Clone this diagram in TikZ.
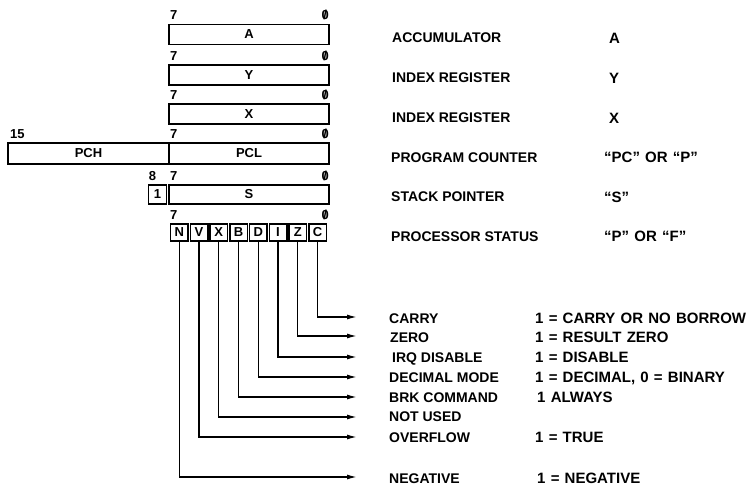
\documentclass[tikz,border=0pt]{standalone}
\usepackage{fontspec}
\setmainfont{Liberation Sans}
\newfontfamily\valfont[WordSpace=1.25]{Liberation Sans}
\usetikzlibrary{arrows.meta}
\newcommand\slz{\ooalign{0\cr\hidewidth/\hidewidth\cr}}
\begin{document}
\begin{tikzpicture}[x=1pt,y=-1pt,
  reg/.style={draw,line width=1.5pt,inner sep=0pt,minimum height=20pt,
    font=\fontsize{13}{15}\selectfont\bfseries},
  flagbox/.style={draw,line width=1.5pt,inner sep=0pt,minimum width=17.5pt,minimum height=17pt,
    font=\fontsize{13}{15}\selectfont\bfseries},
  bitno/.style={inner sep=0pt,font=\fontsize{13}{15}\selectfont\bfseries,text height=9pt,text depth=0pt},
  desc/.style={anchor=west,inner sep=0pt,font=\fontsize{14}{16}\selectfont\bfseries,text height=10pt,text depth=0pt},
  val/.style={anchor=west,inner sep=0pt,font=\fontsize{15}{17}\valfont\bfseries,text height=10.5pt,text depth=0pt},
  flagarrow/.style={line width=1.4pt,-{Latex[length=10pt,width=5pt]}}
]
\useasboundingbox (0,0) rectangle (750,491);
% registers
\node[reg,minimum width=160pt] (A) at (249,34.5) {A};
\node[reg,minimum width=160pt] (Y) at (249,75) {Y};
\node[reg,minimum width=160pt] (X) at (249,114) {X};
\node[reg,minimum width=161pt,minimum height=21pt] (PCH) at (88.5,153.5) {PCH};
\node[reg,minimum width=160pt,minimum height=21pt] (PCL) at (249,153.5) {PCL};
\node[reg,minimum width=18pt,minimum height=19pt] (one) at (157.5,194.5) {1};
\node[reg,minimum width=160pt,minimum height=19pt] (S) at (249,194.5) {S};
% bit numbers
\foreach \n/\yy in {A/15,Y/56,X/95,PC/134,S/176,P/215}{
  \node[bitno,anchor=west] (b7\n) at (170,\yy) {7};
  \node[bitno,anchor=east] (b0\n) at (329,\yy) {\slz};
}
\node[bitno,anchor=west] (b15) at (10,134) {15};
\node[bitno] (b8) at (152.5,176) {8};
% status flags
\foreach \f [count=\i from 0] in {N,V,X,B,D,I,Z,C}{
  \node[flagbox] (f\f) at (179.25+\i*19.75,232.5) {\f};
}
% right-hand descriptions
\node[desc] (dA) at (392,37) {ACCUMULATOR};
\node[val] (sA) at (609,38) {A};
\node[desc] (dY) at (392,77) {INDEX REGISTER};
\node[val] (sY) at (609,78) {Y};
\node[desc] (dX) at (392,117) {INDEX REGISTER};
\node[val] (sX) at (609,118) {X};
\node[desc] (dPC) at (391,157) {PROGRAM COUNTER};
\node[val] (sPC) at (604,157) {“PC” OR “P”};
\node[desc] (dS) at (391,196) {STACK POINTER};
\node[val] (sS) at (604,197) {“S”};
\node[desc] (dP) at (391,236) {PROCESSOR STATUS};
\node[val] (sP) at (604,236) {“P” OR “F”};
% flag arrows
\foreach \f/\yy in {C/317,Z/336,I/357,D/377,B/397,X/417,V/437,N/477}{
  \coordinate (e\f) at (357,\yy);
  \draw[flagarrow] (f\f.south) |- (e\f);
}
% flag descriptions
\node[desc] (tC) at (389,318) {CARRY};
\node[desc] (tZ) at (390,337) {ZERO};
\node[desc] (tI) at (392,357) {IRQ DISABLE};
\node[desc] (tD) at (389,377) {DECIMAL MODE};
\node[desc] (tB) at (389,397) {BRK COMMAND};
\node[desc] (tX) at (389,416) {NOT USED};
\node[desc] (tV) at (389,437) {OVERFLOW};
\node[desc] (tN) at (389,478) {NEGATIVE};
\node[val] (vC) at (535,318) {1 = CARRY OR NO BORROW};
\node[val] (vZ) at (535,337) {1 = RESULT ZERO};
\node[val] (vI) at (535,357) {1 = DISABLE};
\node[val] (vD) at (535,377) {1 = DECIMAL, 0 = BINARY};
\node[val] (vB) at (537,397) {1 ALWAYS};
\node[val] (vV) at (535,437) {1 = TRUE};
\node[val] (vN) at (537,478) {1 = NEGATIVE};
\end{tikzpicture}
\end{document}
